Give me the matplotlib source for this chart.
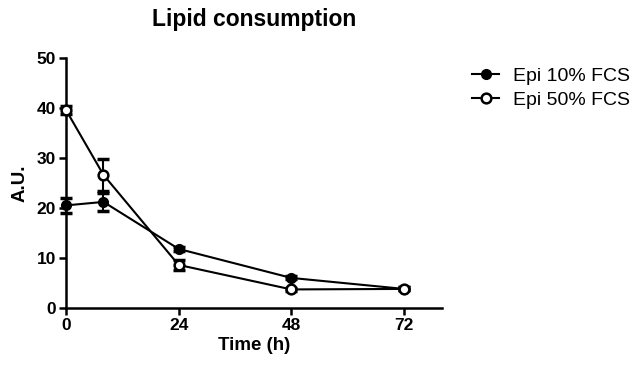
import numpy as np
import matplotlib.pyplot as plt

plt.rcParams['font.family'] = ['Liberation Sans', 'DejaVu Sans']

# Zeit (h)
time = [0, 8, 24, 48, 72]
# Epi 10% FCS
epi10 = [20.5, 21.2, 11.8, 6.0, 3.8]
epi10_err = [1.5, 1.8, 0.4, 0.3, 0.3]
# Epi 50% FCS
epi50 = [39.6, 26.6, 8.6, 3.7, 3.8]
epi50_err = [0.8, 3.2, 1.0, 0.3, 0.3]
xticks = [0, 24, 48, 72]
yticks = [0, 10, 20, 30, 40, 50]

fig = plt.figure(figsize=(6.4, 3.71), dpi=100)
ax = fig.add_axes([0.103, 0.170, 0.587, 0.674])

ax.errorbar(time, epi10, yerr=epi10_err, fmt='none', ecolor='black',
            capsize=4, elinewidth=1.5, capthick=2.5, clip_on=False, zorder=2)
ax.errorbar(time, epi50, yerr=epi50_err, fmt='none', ecolor='black',
            capsize=4, elinewidth=1.5, capthick=2.5, clip_on=False, zorder=2)
ax.plot(time, epi10, color='black', marker='o', markersize=7,
        markerfacecolor='black', linewidth=1.5, label='Epi 10% FCS',
        clip_on=False, zorder=3)
ax.plot(time, epi50, color='black', marker='o', markersize=7,
        markerfacecolor='white', markeredgewidth=1.8, linewidth=1.5,
        label='Epi 50% FCS', clip_on=False, zorder=4)

ax.set_xlim(0, 80)
ax.set_ylim(0, 50)
ax.set_xticks(xticks)
ax.set_yticks(yticks)
ax.spines['top'].set_visible(False)
ax.spines['right'].set_visible(False)
ax.spines['left'].set_linewidth(1.8)
ax.spines['bottom'].set_linewidth(1.8)
ax.tick_params(direction='out', length=5, width=1.8, labelsize=12.5, pad=2)
for lab in ax.get_xticklabels() + ax.get_yticklabels():
    lab.set_fontweight('bold')

ax.set_xlabel('Time (h)', fontsize=13.5, fontweight='bold', labelpad=3)
ax.set_ylabel('A.U.', fontsize=13.5, fontweight='bold', labelpad=6)
ax.set_title('Lipid consumption', fontsize=16.5, fontweight='bold', pad=23)

leg = ax.legend(loc='upper left', bbox_to_anchor=(0.71, 0.865), bbox_transform=fig.transFigure,
                frameon=False, fontsize=14, handlelength=1.4, handletextpad=0.7,
                labelspacing=0.3)

plt.savefig('out.png', dpi=100)
